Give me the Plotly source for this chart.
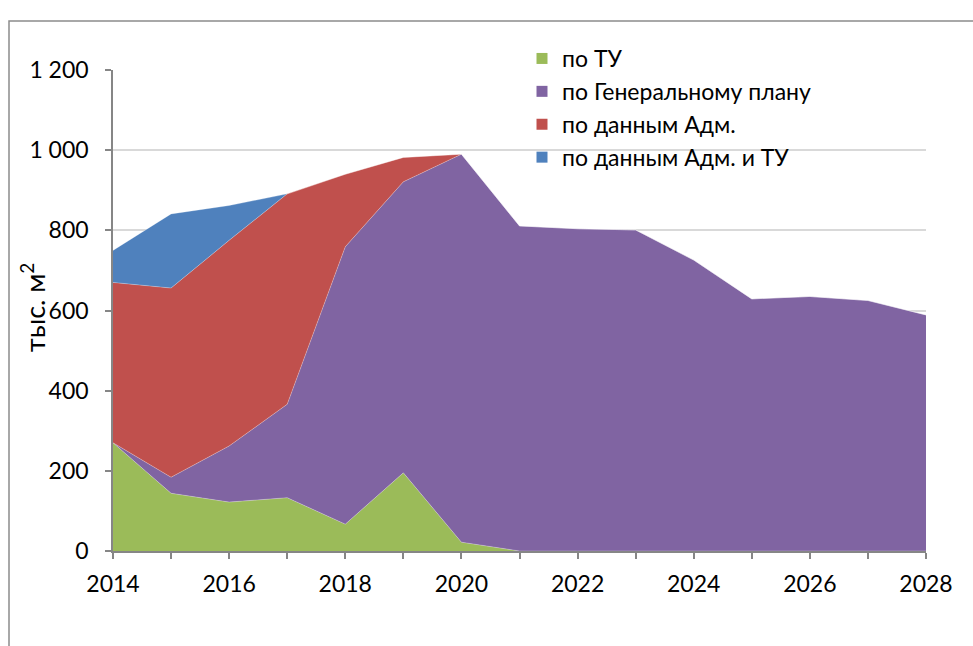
import plotly.graph_objects as go

years = list(range(2014, 2029))
po_tu = [270, 144, 122, 133, 67, 195, 22, 0, 0, 0, 0, 0, 0, 0, 0]
po_genplan = [0, 40, 140, 233, 692, 726, 968, 811, 804, 801, 726, 629, 635, 625, 589]
po_adm = [400, 472, 513, 525, 181, 61, 0, 0, 0, 0, 0, 0, 0, 0, 0]
po_adm_tu = [80, 185, 87, 0, 0, 0, 0, 0, 0, 0, 0, 0, 0, 0, 0]

names = ["по ТУ", "по Генеральному плану", "по данным Адм.", "по данным Адм. и ТУ"]
colors = ["#9BBB59", "#8064A2", "#C0504D", "#4F81BD"]
series = [po_tu, po_genplan, po_adm, po_adm_tu]
y_title = "тыс. м<sup>2</sup>"

FONT = "Lato, 'Open Sans', sans-serif"
FS = 23

fig = go.Figure()
for name, col, vals in zip(names, colors, series):
    fig.add_trace(go.Scatter(
        x=years, y=vals, name=name, mode="lines", stackgroup="one",
        fillcolor=col, line=dict(width=0.6, color="rgba(255,255,255,0.45)"),
        showlegend=False,
    ))
for name, col in zip(names, colors):
    fig.add_trace(go.Scatter(
        x=[None], y=[None], name=name, mode="markers",
        marker=dict(symbol="square", size=11, color=col),
        showlegend=True,
    ))

L, R, T, B = 113, 47, 70, 95
W, H = 973, 646
pw = W - L - R
ph = H - T - B

fig.update_layout(
    width=W, height=H,
    margin=dict(l=L, r=R, t=T, b=B, autoexpand=False),
    paper_bgcolor="white", plot_bgcolor="white",
    font=dict(family=FONT, size=FS, color="black"),
    separators=", ",
    showlegend=True,
    legend=dict(
        x=(522 - L) / pw, y=(H - B - 37) / ph, xanchor="left", yanchor="top",
        bgcolor="rgba(0,0,0,0)", traceorder="normal",
        font=dict(family=FONT, size=FS, color="black"),
        itemwidth=30, tracegroupgap=0,
    ),
    xaxis=dict(
        range=[2014, 2028], tickmode="linear", tick0=2014, dtick=2,
        showgrid=False, zeroline=False, automargin=False,
        showline=True, linecolor="#868686", linewidth=1.5,
        ticks="outside", ticklen=6, tickcolor="#868686", tickwidth=1.5,
        minor=dict(dtick=1, tick0=2014, ticks="outside", ticklen=6,
                   tickcolor="#868686", tickwidth=1.5, showgrid=False),
        ticklabelstandoff=6,
        tickfont=dict(family=FONT, size=FS, color="black"),
    ),
    yaxis=dict(
        range=[0, 1200], tickmode="linear", tick0=0, dtick=200,
        separatethousands=True, tickformat=",d",
        showgrid=True, gridcolor="#D9D9D9", gridwidth=1.5,
        zeroline=False, automargin=False,
        showline=True, linecolor="#868686", linewidth=1.5,
        ticks="outside", ticklen=6, tickcolor="#868686", tickwidth=1.5,
        ticklabelstandoff=12,
        tickfont=dict(family=FONT, size=FS, color="black"),
    ),
    annotations=[dict(
        text=y_title, textangle=-90, xref="paper", yref="paper",
        x=(33 - L) / pw, y=(551 - 308) / ph, xanchor="center", yanchor="middle",
        showarrow=False, font=dict(family=FONT, size=27, color="black"),
    )],
    shapes=[dict(
        type="rect", xref="paper", yref="paper",
        x0=(9 - L) / pw, x1=(990 - L) / pw,
        y0=(H - B - 670) / ph, y1=(H - B - 21) / ph,
        line=dict(color="#8C8C8C", width=1.5), fillcolor="rgba(0,0,0,0)",
        layer="below",
    )],
)

fig.write_html("out.html", config={"displayModeBar": False},
               post_script="document.body.style.margin='0px';")
